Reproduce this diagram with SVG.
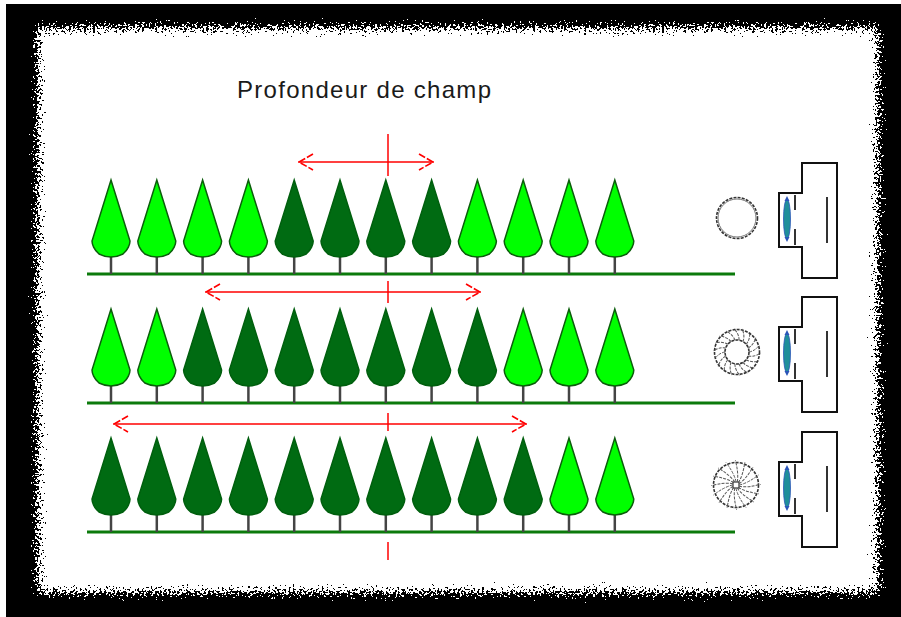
<svg xmlns="http://www.w3.org/2000/svg" xmlns:xlink="http://www.w3.org/1999/xlink" width="901" height="617" viewBox="0 0 901 617">
  <style>
    .title { font-family: "Liberation Sans", Arial, sans-serif; font-size: 24px; fill: #1a1a1a; }
    .ground { stroke: #0b7a0b; stroke-width: 3; fill: none; }
    .trunk { stroke: #444; stroke-width: 2.5; }
    .light { fill: #00ff00; stroke: #0b5e0b; stroke-width: 1.5; }
    .dark { fill: #006b12; stroke: #005f0e; stroke-width: 1.5; }
    .red { stroke: #ff0000; stroke-width: 1.5; fill: none; }
    .head { stroke: #ff0000; stroke-width: 1.6; fill: none; stroke-dasharray: 7 2; }
    .cam { fill: #fff; stroke: #111; stroke-width: 2; }
    .camline { stroke: #333; stroke-width: 2; }
    .lens { fill: #1f8f9a; stroke: #2a55b8; stroke-width: 0.8; }
    .blade { stroke: #555; stroke-width: 1; fill: none; stroke-dasharray: 3 1.2; }
    .ring { fill: none; stroke: #333; stroke-width: 1.6; stroke-dasharray: 3 1.2; }
  </style>
  <defs>
    <filter id="rough" x="-5%" y="-5%" width="110%" height="110%">
      <feTurbulence type="fractalNoise" baseFrequency="0.45" numOctaves="3" seed="7" result="n"/>
      <feDisplacementMap in="SourceGraphic" in2="n" scale="30" xChannelSelector="R" yChannelSelector="G" result="d"/>
      <feComponentTransfer in="d">
        <feFuncA type="discrete" tableValues="0 1"/>
      </feComponentTransfer>
    </filter>
    <!-- conifer: tip at origin, trunk down to ground at y=94 -->
    <path id="crown" d="M0,0 L19,61 C19,64 17,70 12,74 C8,76 4,77 0,77 C-4,77 -8,76 -12,74 C-17,70 -19,64 -19,61 Z"/>
    <g id="tree-light">
      <line class="trunk" x1="0" y1="76" x2="0" y2="94"/>
      <use href="#crown" class="light"/>
    </g>
    <g id="tree-dark">
      <line class="trunk" x1="0" y1="76" x2="0" y2="94"/>
      <use href="#crown" class="dark"/>
    </g>
    <!-- camera body with lens mount, origin at top of body -->
    <g id="camera">
      <path class="cam" d="M802,0 H837 V115 H802 V84 H779 V30 H802 Z"/>
      <line class="camline" x1="795" y1="32" x2="795" y2="47"/>
      <line class="camline" x1="795" y1="66" x2="795" y2="82"/>
      <line class="camline" x1="827" y1="34" x2="827" y2="80"/>
      <ellipse class="lens" cx="787" cy="56" rx="3.5" ry="20"/>
      <path d="M787,33 L784.5,38 H789.5 Z M787,79 L784.5,74 H789.5 Z" fill="#2a55b8"/>
    </g>
    <path id="blade-mid" class="blade" d="M12,0 Q18,-1 22.5,-7"/>
    <path id="blade-closed" class="blade" d="M3.5,0 Q12,-2 22.5,-10"/>
  </defs>

  <!-- frame -->
  <rect x="0" y="0" width="901" height="617" fill="#fff"/>
  <rect x="6" y="4" width="895" height="613" fill="#000"/>
  <rect x="38" y="28" width="840" height="564" fill="#fff" filter="url(#rough)"/>

  <text class="title" x="237" y="98" textLength="254" lengthAdjust="spacing">Profondeur de champ</text>

  <!-- row 1 -->
  <g id="row1">
    <line class="ground" x1="87" y1="274" x2="735" y2="274"/>
    <use href="#tree-light" x="111" y="180"/>
    <use href="#tree-light" x="156.8" y="180"/>
    <use href="#tree-light" x="202.6" y="180"/>
    <use href="#tree-light" x="248.4" y="180"/>
    <use href="#tree-dark" x="294.2" y="180"/>
    <use href="#tree-dark" x="340" y="180"/>
    <use href="#tree-dark" x="385.8" y="180"/>
    <use href="#tree-dark" x="431.6" y="180"/>
    <use href="#tree-light" x="477.4" y="180"/>
    <use href="#tree-light" x="523.2" y="180"/>
    <use href="#tree-light" x="569" y="180"/>
    <use href="#tree-light" x="614.8" y="180"/>
  </g>
  <!-- row 2 -->
  <g id="row2">
    <line class="ground" x1="87" y1="403" x2="735" y2="403"/>
    <use href="#tree-light" x="111" y="309"/>
    <use href="#tree-light" x="156.8" y="309"/>
    <use href="#tree-dark" x="202.6" y="309"/>
    <use href="#tree-dark" x="248.4" y="309"/>
    <use href="#tree-dark" x="294.2" y="309"/>
    <use href="#tree-dark" x="340" y="309"/>
    <use href="#tree-dark" x="385.8" y="309"/>
    <use href="#tree-dark" x="431.6" y="309"/>
    <use href="#tree-dark" x="477.4" y="309"/>
    <use href="#tree-light" x="523.2" y="309"/>
    <use href="#tree-light" x="569" y="309"/>
    <use href="#tree-light" x="614.8" y="309"/>
  </g>
  <!-- row 3 -->
  <g id="row3">
    <line class="ground" x1="87" y1="532" x2="735" y2="532"/>
    <use href="#tree-dark" x="111" y="438"/>
    <use href="#tree-dark" x="156.8" y="438"/>
    <use href="#tree-dark" x="202.6" y="438"/>
    <use href="#tree-dark" x="248.4" y="438"/>
    <use href="#tree-dark" x="294.2" y="438"/>
    <use href="#tree-dark" x="340" y="438"/>
    <use href="#tree-dark" x="385.8" y="438"/>
    <use href="#tree-dark" x="431.6" y="438"/>
    <use href="#tree-dark" x="477.4" y="438"/>
    <use href="#tree-dark" x="523.2" y="438"/>
    <use href="#tree-light" x="569" y="438"/>
    <use href="#tree-light" x="614.8" y="438"/>
  </g>

  <!-- depth-of-field spans and focus plane marks -->
  <g id="connectors">
    <line class="red" x1="298" y1="162" x2="434" y2="162"/>
    <path class="head" d="M313,154 L299,162 L313,170 M419,154 L433,162 L419,170"/>
    <line class="red" x1="205" y1="292" x2="481" y2="292"/>
    <path class="head" d="M220,284 L206,292 L220,300 M466,284 L480,292 L466,300"/>
    <line class="red" x1="113" y1="424" x2="527" y2="424"/>
    <path class="head" d="M128,416 L114,424 L128,432 M512,416 L526,424 L512,432"/>
    <line class="red" x1="388" y1="134" x2="388" y2="176"/>
    <line class="red" x1="388" y1="281" x2="388" y2="303"/>
    <line class="red" x1="388" y1="413" x2="388" y2="431"/>
    <line class="red" x1="388" y1="542" x2="388" y2="560"/>
  </g>

  <!-- apertures -->
  <g id="aperture-open">
    <circle class="ring" cx="737" cy="218" r="20.5" stroke-width="2.2"/>
    <circle cx="737" cy="218" r="19" fill="none" stroke="#555" stroke-width="0.8"/>
  </g>
  <g id="aperture-mid" transform="translate(737,352)">
    <circle class="ring" r="22.5"/>
    <circle class="ring" r="12"/>
    <use href="#blade-mid" transform="rotate(0)"/>
    <use href="#blade-mid" transform="rotate(20)"/>
    <use href="#blade-mid" transform="rotate(40)"/>
    <use href="#blade-mid" transform="rotate(60)"/>
    <use href="#blade-mid" transform="rotate(80)"/>
    <use href="#blade-mid" transform="rotate(100)"/>
    <use href="#blade-mid" transform="rotate(120)"/>
    <use href="#blade-mid" transform="rotate(140)"/>
    <use href="#blade-mid" transform="rotate(160)"/>
    <use href="#blade-mid" transform="rotate(180)"/>
    <use href="#blade-mid" transform="rotate(200)"/>
    <use href="#blade-mid" transform="rotate(220)"/>
    <use href="#blade-mid" transform="rotate(240)"/>
    <use href="#blade-mid" transform="rotate(260)"/>
    <use href="#blade-mid" transform="rotate(280)"/>
    <use href="#blade-mid" transform="rotate(300)"/>
    <use href="#blade-mid" transform="rotate(320)"/>
    <use href="#blade-mid" transform="rotate(340)"/>
  </g>
  <g id="aperture-closed" transform="translate(736,485)">
    <circle class="ring" r="22.5"/>
    <rect x="-3" y="-3" width="6" height="6" fill="none" stroke="#333" stroke-width="1.2"/>
    <use href="#blade-closed" transform="rotate(0)"/>
    <use href="#blade-closed" transform="rotate(22.5)"/>
    <use href="#blade-closed" transform="rotate(45)"/>
    <use href="#blade-closed" transform="rotate(67.5)"/>
    <use href="#blade-closed" transform="rotate(90)"/>
    <use href="#blade-closed" transform="rotate(112.5)"/>
    <use href="#blade-closed" transform="rotate(135)"/>
    <use href="#blade-closed" transform="rotate(157.5)"/>
    <use href="#blade-closed" transform="rotate(180)"/>
    <use href="#blade-closed" transform="rotate(202.5)"/>
    <use href="#blade-closed" transform="rotate(225)"/>
    <use href="#blade-closed" transform="rotate(247.5)"/>
    <use href="#blade-closed" transform="rotate(270)"/>
    <use href="#blade-closed" transform="rotate(292.5)"/>
    <use href="#blade-closed" transform="rotate(315)"/>
    <use href="#blade-closed" transform="rotate(337.5)"/>
  </g>

  <!-- cameras -->
  <g id="camera1"><use href="#camera" y="163"/></g>
  <g id="camera2"><use href="#camera" y="297"/></g>
  <g id="camera3"><use href="#camera" y="432"/></g>
</svg>
